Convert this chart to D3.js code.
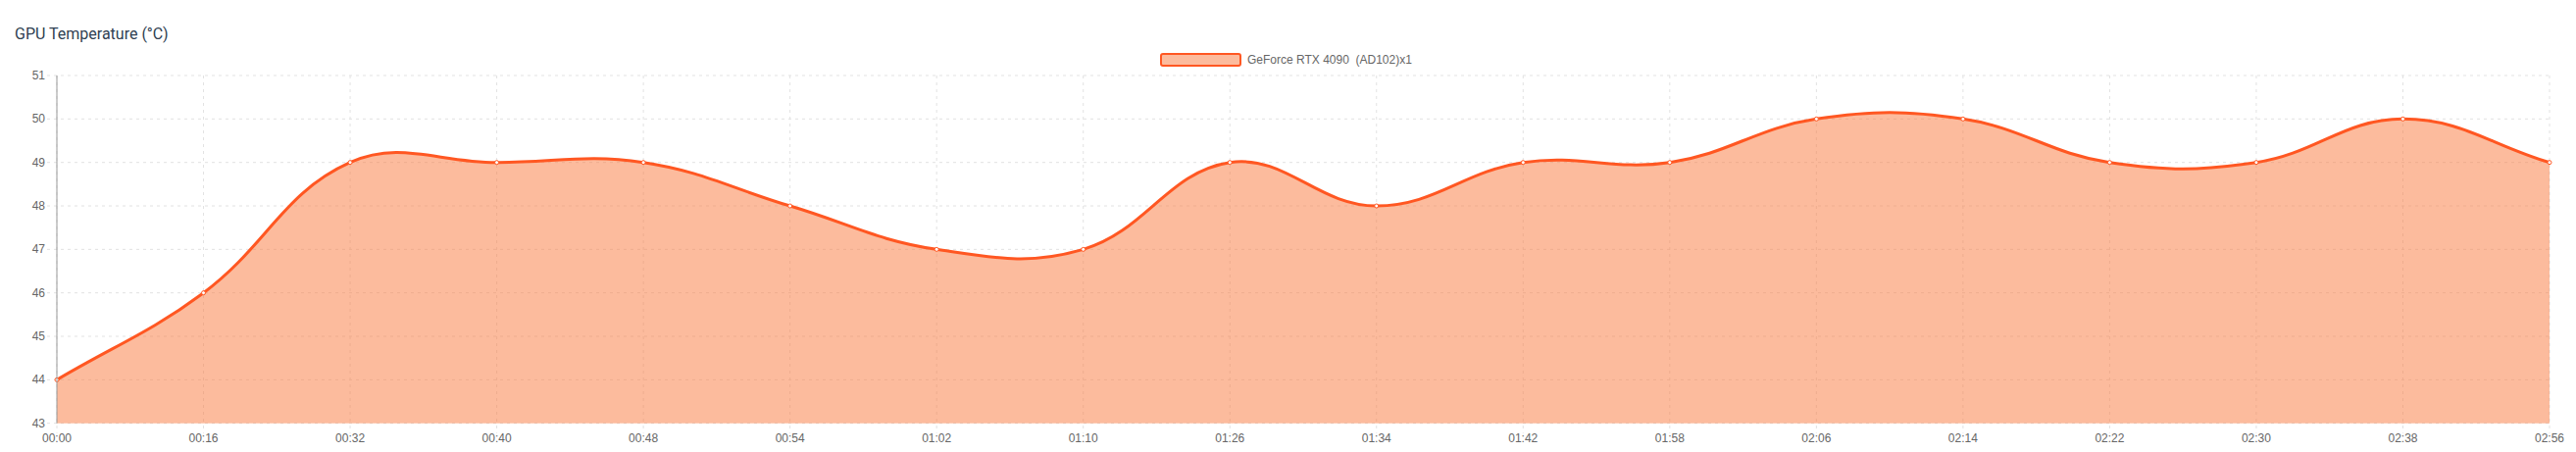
<!DOCTYPE html>
<html>
<head>
<meta charset="utf-8">
<script src="https://cdn.jsdelivr.net/npm/d3@7"></script>
<style>
  html, body { margin: 0; padding: 0; background: #fff; }
  svg { display: block; }
</style>
</head>
<body>
<div id="chart"></div>
<script>
const times = ["00:00", "00:16", "00:32", "00:40", "00:48", "00:54", "01:02", "01:10", "01:26",
               "01:34", "01:42", "01:58", "02:06", "02:14", "02:22", "02:30", "02:38", "02:56"];
const temps = [44, 46, 49, 49, 49, 48, 47, 47, 49, 48, 49, 49, 50, 50, 49, 49, 50, 49];
const yTicks = [43, 44, 45, 46, 47, 48, 49, 50, 51];
const seriesName = "GeForce RTX 4090  (AD102)x1";
const chartTitle = "GPU Temperature (°C)";

const width = 2627, height = 461;
const plotLeft = 58, plotRight = 2600, plotTop = 77, plotBottom = 431.7;
const lineColor = "#ff5722";
const fillColor = "rgba(250,120,60,0.5)";
const gridColor = "#e2e2e2";

const svg = d3.select("#chart").append("svg")
    .attr("width", width)
    .attr("height", height);

const x = d3.scalePoint().domain(times).range([plotLeft, plotRight]);
const y = d3.scaleLinear().domain([43, 51]).range([plotBottom, plotTop]);

// title
svg.append("text")
   .attr("x", 15).attr("y", 40)
   .attr("fill", "#2f3f52")
   .style("font-family", "Roboto, 'Noto Sans', sans-serif")
   .style("font-size", "16px")
   .text(chartTitle);

// grid
const grid = svg.append("g");
grid.selectAll("line.h").data(yTicks).enter().append("line")
    .attr("x1", plotLeft - 10).attr("x2", plotRight)
    .attr("y1", d => y(d)).attr("y2", d => y(d))
    .attr("stroke", gridColor).attr("stroke-width", 1)
    .attr("stroke-dasharray", "3,4");
grid.selectAll("line.v").data(times).enter().append("line")
    .attr("x1", d => x(d)).attr("x2", d => x(d))
    .attr("y1", plotTop).attr("y2", plotBottom + 10)
    .attr("stroke", gridColor).attr("stroke-width", 1)
    .attr("stroke-dasharray", "3,4");

// spline like chart.js, tension 0.4
const pts = temps.map((v, i) => ({x: x(times[i]), y: y(v)}));
function controlPoints(p, t) {
    return p.map((cur, i) => {
        const prev = p[i - 1] || cur, next = p[i + 1] || cur;
        const d01 = Math.hypot(cur.x - prev.x, cur.y - prev.y);
        const d12 = Math.hypot(next.x - cur.x, next.y - cur.y);
        let s01 = d01 / (d01 + d12), s12 = d12 / (d01 + d12);
        if (isNaN(s01)) s01 = 0;
        if (isNaN(s12)) s12 = 0;
        const fa = t * s01, fb = t * s12;
        const clampY = v => Math.min(plotBottom, Math.max(plotTop, v));
        return {
            px: cur.x - fa * (next.x - prev.x), py: clampY(cur.y - fa * (next.y - prev.y)),
            nx: cur.x + fb * (next.x - prev.x), ny: clampY(cur.y + fb * (next.y - prev.y))
        };
    });
}
const cps = controlPoints(pts, 0.4);
function splinePath(p, closeToBottom) {
    const path = d3.path();
    path.moveTo(p[0].x, p[0].y);
    for (let i = 1; i < p.length; i++) {
        path.bezierCurveTo(cps[i - 1].nx, cps[i - 1].ny, cps[i].px, cps[i].py, p[i].x, p[i].y);
    }
    if (closeToBottom) {
        path.lineTo(p[p.length - 1].x, plotBottom);
        path.lineTo(p[0].x, plotBottom);
        path.closePath();
    }
    return path.toString();
}

svg.append("path")
   .attr("d", splinePath(pts, true))
   .attr("fill", fillColor);

svg.append("path")
   .attr("d", splinePath(pts, false))
   .attr("fill", "none")
   .attr("stroke", lineColor)
   .attr("stroke-width", 3);

svg.selectAll("circle.pt").data(pts).enter().append("circle")
   .attr("cx", d => d.x).attr("cy", d => d.y)
   .attr("r", 2)
   .attr("fill", "#fff")
   .attr("stroke", lineColor)
   .attr("stroke-width", 1);

// left axis line
svg.append("line")
   .attr("x1", plotLeft).attr("x2", plotLeft)
   .attr("y1", plotTop).attr("y2", plotBottom)
   .attr("stroke", "#999").attr("stroke-width", 1);

// tick labels
svg.append("g").selectAll("text").data(yTicks).enter().append("text")
   .attr("x", 46).attr("y", d => y(d) + 4)
   .attr("text-anchor", "end")
   .attr("fill", "#666")
   .style("font-family", "'Liberation Sans', Arial, sans-serif")
   .style("font-size", "12px")
   .text(d => d);

svg.append("g").selectAll("text").data(times).enter().append("text")
   .attr("x", d => x(d)).attr("y", 451)
   .attr("text-anchor", "middle")
   .attr("fill", "#666")
   .style("font-family", "'Liberation Sans', Arial, sans-serif")
   .style("font-size", "12px")
   .text(d => d);

// legend
const legend = svg.append("g");
legend.append("rect")
   .attr("x", 1184).attr("y", 55)
   .attr("width", 81).attr("height", 12)
   .attr("rx", 2)
   .attr("fill", fillColor)
   .attr("stroke", lineColor)
   .attr("stroke-width", 2);
legend.append("text")
   .attr("x", 1272).attr("y", 65)
   .attr("fill", "#666")
   .style("font-family", "'Liberation Sans', Arial, sans-serif")
   .style("font-size", "12px")
   .style("white-space", "pre")
   .text(seriesName);
</script>
</body>
</html>
